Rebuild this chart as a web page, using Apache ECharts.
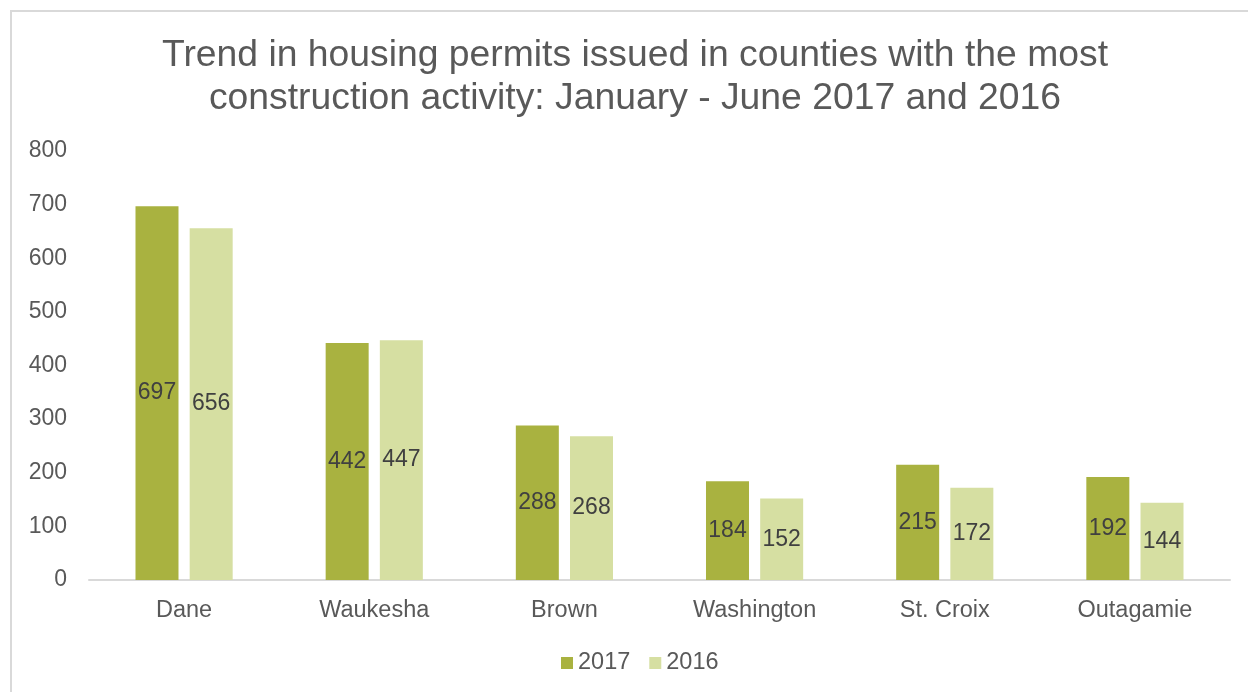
<!DOCTYPE html>
<html>
<head>
<meta charset="utf-8">
<script src="https://cdn.jsdelivr.net/npm/echarts@6/dist/echarts.min.js"></script>
<style>
  html, body { margin: 0; padding: 0; background: #fff; }
  #chart { width: 1248px; height: 692px; }
</style>
</head>
<body>
<div id="chart"></div>
<script>
// Housing permits, January - June, by county
const counties = ['Dane', 'Waukesha', 'Brown', 'Washington', 'St. Croix', 'Outagamie'];
const permits2017 = [697, 442, 288, 184, 215, 192];
const permits2016 = [656, 447, 268, 152, 172, 144];
const yTicks = { min: 0, max: 800, interval: 100 };

const FONT = '"Liberation Sans", Arial, sans-serif';
const TEXT = '#595959';

const chart = echarts.init(document.getElementById('chart'), null, { renderer: 'canvas' });

const labelStyle = {
  show: true,
  position: 'inside',
  color: '#404040',
  fontFamily: FONT,
  fontSize: 23
};

chart.setOption({
  backgroundColor: '#ffffff',
  animation: false,
  graphic: [{
    type: 'rect',
    shape: { x: 11, y: 11, width: 1400, height: 900 },
    style: { fill: 'none', stroke: '#d9d9d9', lineWidth: 2 },
    silent: true,
    z: -1
  }],
  title: {
    text: 'Trend in housing permits issued in counties with the most\nconstruction activity: January - June 2017 and 2016',
    left: 630,
    top: 29,
    textAlign: 'center',
    textStyle: {
      color: TEXT,
      fontFamily: FONT,
      fontSize: 37.3,
      fontWeight: 'normal',
      lineHeight: 43
    }
  },
  legend: {
    bottom: 12,
    left: 556,
    itemWidth: 12,
    itemHeight: 12,
    itemGap: 19,
    icon: 'rect',
    textStyle: { color: TEXT, fontFamily: FONT, fontSize: 23.5 },
    data: ['2017', '2016']
  },
  grid: { left: 89, right: 18, top: 151, bottom: 112, containLabel: false },
  xAxis: {
    type: 'category',
    data: counties,
    axisLine: { lineStyle: { color: '#d9d9d9', width: 2 } },
    axisTick: { show: false },
    axisLabel: { color: TEXT, fontFamily: FONT, fontSize: 23.5, margin: 19 }
  },
  yAxis: {
    type: 'value',
    min: yTicks.min,
    max: yTicks.max,
    interval: yTicks.interval,
    splitLine: { show: false },
    axisLine: { show: false },
    axisTick: { show: false },
    axisLabel: { color: TEXT, fontFamily: FONT, fontSize: 23, margin: 22 }
  },
  series: [
    {
      name: '2017',
      type: 'bar',
      data: permits2017,
      barWidth: 43,
      barGap: '26%',
      itemStyle: { color: '#a9b240' },
      label: labelStyle
    },
    {
      name: '2016',
      type: 'bar',
      data: permits2016,
      barWidth: 43,
      itemStyle: { color: '#d6dfa2' },
      label: labelStyle
    }
  ]
});
</script>
</body>
</html>
